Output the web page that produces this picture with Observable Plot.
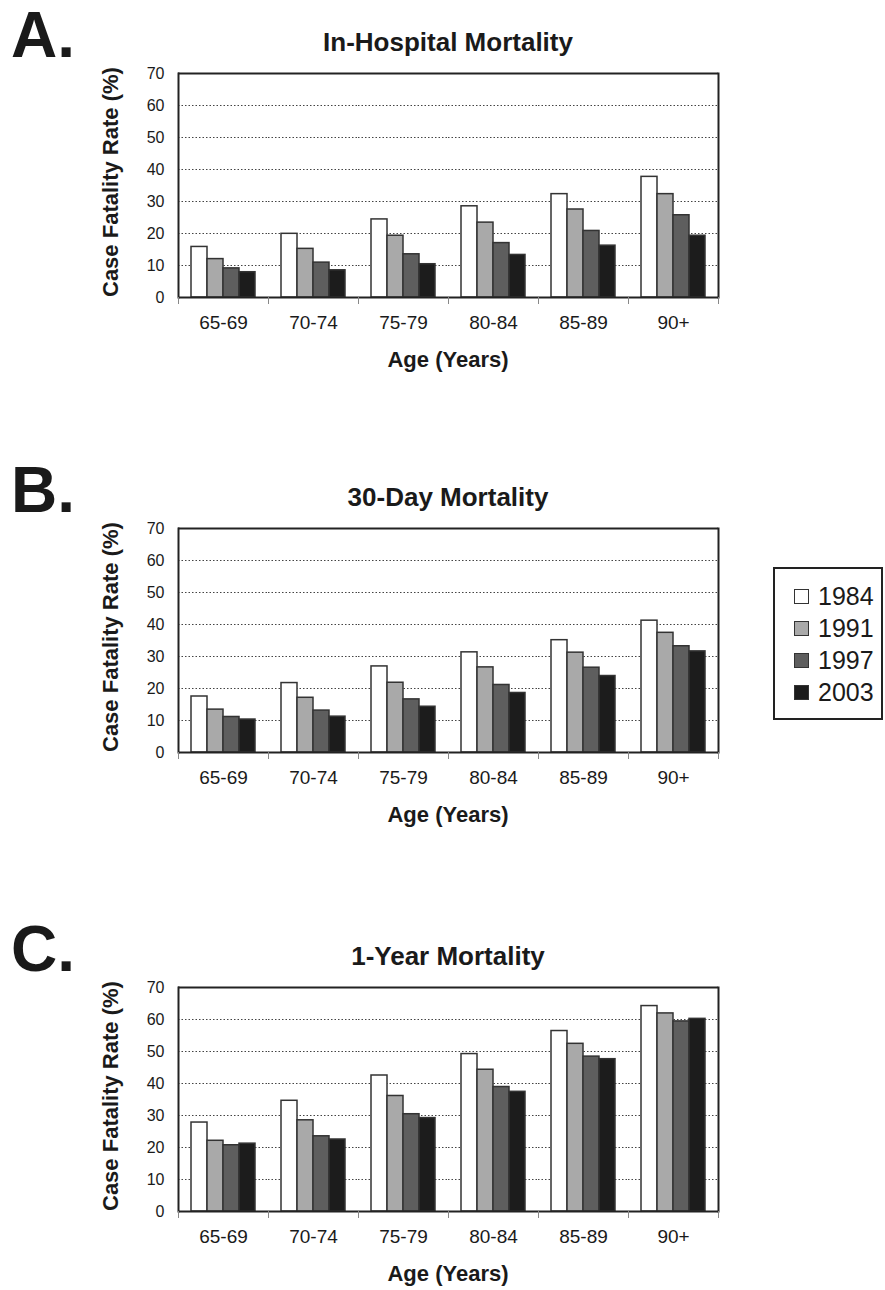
<!DOCTYPE html>
<html>
<head>
<meta charset="utf-8">
<script src="https://cdn.jsdelivr.net/npm/d3@7"></script>
<script src="https://cdn.jsdelivr.net/npm/@observablehq/plot@0.6"></script>
<style>
  html, body { margin: 0; padding: 0; background: #fff; }
  body { font-family: "Liberation Sans", Arial, sans-serif; color: #1a1a1a; }
  #page { position: relative; width: 885px; height: 1290px; overflow: hidden; }
  .panel { position: absolute; left: 0; width: 885px; height: 400px; }
  .letter { position: absolute; left: 11px; font-size: 64px; font-weight: bold; line-height: 1; }
  .title { position: absolute; left: 178px; width: 540px; text-align: center; font-size: 26px; font-weight: bold; line-height: 1; white-space: nowrap; }
  .xlabel { position: absolute; left: 178px; width: 540px; text-align: center; font-size: 22px; font-weight: bold; line-height: 1; white-space: nowrap; }
  .ylabel { position: absolute; width: 224px; height: 22px; line-height: 22px; text-align: center; font-size: 22px; font-weight: bold; white-space: nowrap; transform: rotate(-90deg); }
  .plot { position: absolute; left: 0; top: 60px; }
  #legend { position: absolute; left: 773px; top: 567px; width: 110px; height: 153px; box-sizing: border-box;
            border: 2px solid #222; padding: 11px 0 0 19px; }
  .item { display: flex; align-items: center; height: 32px; font-size: 25px; }
  .sw { width: 15px; height: 15px; box-sizing: border-box; border: 1.5px solid #333; margin-right: 9px; }
</style>
</head>
<body>
<div id="page"></div>
<script>
const ages = ["65-69", "70-74", "75-79", "80-84", "85-89", "90+"];
const years = ["1984", "1991", "1997", "2003"];
const colors = ["#ffffff", "#a9a9a9", "#5e5e5e", "#1c1c1c"];
const yTicks = [0, 10, 20, 30, 40, 50, 60, 70];
const letters = ["A.", "B.", "C."];
const titles = ["In-Hospital Mortality", "30-Day Mortality", "1-Year Mortality"];
const yLabel = "Case Fatality Rate (%)";
const xLabel = "Age (Years)";

// values per age group, in order of years 1984, 1991, 1997, 2003
const inHospital = [[15.8, 12.0, 9.1, 7.9], [19.9, 15.2, 10.9, 8.5], [24.4, 19.3, 13.5, 10.4], [28.5, 23.4, 17.0, 13.3], [32.3, 27.5, 20.8, 16.2], [37.7, 32.3, 25.7, 19.3]];
const thirtyDay = [[17.5, 13.4, 11.1, 10.3], [21.7, 17.1, 13.1, 11.2], [26.9, 21.8, 16.6, 14.3], [31.3, 26.6, 21.1, 18.6], [35.1, 31.2, 26.5, 23.9], [41.2, 37.4, 33.2, 31.6]];
const oneYear = [[27.8, 22.1, 20.7, 21.2], [34.6, 28.5, 23.5, 22.5], [42.5, 36.1, 30.4, 29.2], [49.2, 44.3, 38.9, 37.4], [56.4, 52.4, 48.4, 47.6], [64.2, 61.9, 59.4, 60.2]];

const panelValues = [inHospital, thirtyDay, oneYear];
const panelTops = [0, 455, 914];

const page = document.getElementById("page");

function toRows(values) {
  const rows = [];
  ages.forEach((age, i) => years.forEach((year, j) => rows.push({age, year, value: values[i][j]})));
  return rows;
}

panelValues.forEach((values, p) => {
  const panel = document.createElement("div");
  panel.className = "panel";
  panel.style.top = panelTops[p] + "px";
  page.appendChild(panel);

  const letter = document.createElement("div");
  letter.className = "letter";
  letter.style.top = "3px";
  letter.textContent = letters[p];
  panel.appendChild(letter);

  const title = document.createElement("div");
  title.className = "title";
  title.style.top = "29px";
  title.textContent = titles[p];
  panel.appendChild(title);

  const chart = Plot.plot({
    width: 740,
    height: 300,
    marginLeft: 178,
    marginRight: 22,
    marginTop: 13,
    marginBottom: 63,
    style: {fontFamily: '"Liberation Sans", Arial, sans-serif', background: "transparent", overflow: "visible", color: "#1a1a1a"},
    fx: {domain: ages, padding: 0, label: null},
    x: {domain: years, paddingInner: 0, paddingOuter: 0.69, axis: null},
    y: {domain: [0, 70]},
    color: {domain: years, range: colors},
    marks: [
      Plot.gridY(yTicks.filter(t => t > 0 && t < 70), {stroke: "#444", strokeOpacity: 1, strokeDasharray: "1.5,2"}),
      Plot.barY(toRows(values), {fx: "age", x: "year", y: "value", fill: "year", stroke: "#333", strokeWidth: 1.5}),
      Plot.ruleY([0, 70], {stroke: "#222", strokeWidth: 2}),
      Plot.frame({anchor: "left", facetAnchor: "left", stroke: "#222", strokeWidth: 2}),
      Plot.frame({anchor: "right", facetAnchor: "right", stroke: "#222", strokeWidth: 2}),
      Plot.frame({anchor: "left", insetTop: 224, insetBottom: -6, stroke: "#888", strokeWidth: 1}),
      Plot.frame({anchor: "right", facetAnchor: "right", insetTop: 224, insetBottom: -6, stroke: "#888", strokeWidth: 1}),
      Plot.axisY({ticks: yTicks, tickSize: 0, tickPadding: 14, fontSize: 16, label: null, tickFormat: d => String(d)}),
      Plot.axisFx({anchor: "bottom", tickSize: 0, tickPadding: 17.5, fontSize: 19, label: null})
    ]
  });
  chart.classList.add("plot");
  panel.appendChild(chart);

  const yl = document.createElement("div");
  yl.className = "ylabel";
  yl.style.left = (111 - 112) + "px";
  yl.style.top = (185 - 11) + "px";
  yl.textContent = yLabel;
  panel.appendChild(yl);

  const xl = document.createElement("div");
  xl.className = "xlabel";
  xl.style.top = "349px";
  xl.textContent = xLabel;
  panel.appendChild(xl);
});

const legend = document.createElement("div");
legend.id = "legend";
years.forEach((y, i) => {
  const item = document.createElement("div");
  item.className = "item";
  const sw = document.createElement("span");
  sw.className = "sw";
  sw.style.background = colors[i];
  item.appendChild(sw);
  item.appendChild(document.createTextNode(y));
  legend.appendChild(item);
});
page.appendChild(legend);
</script>
</body>
</html>
